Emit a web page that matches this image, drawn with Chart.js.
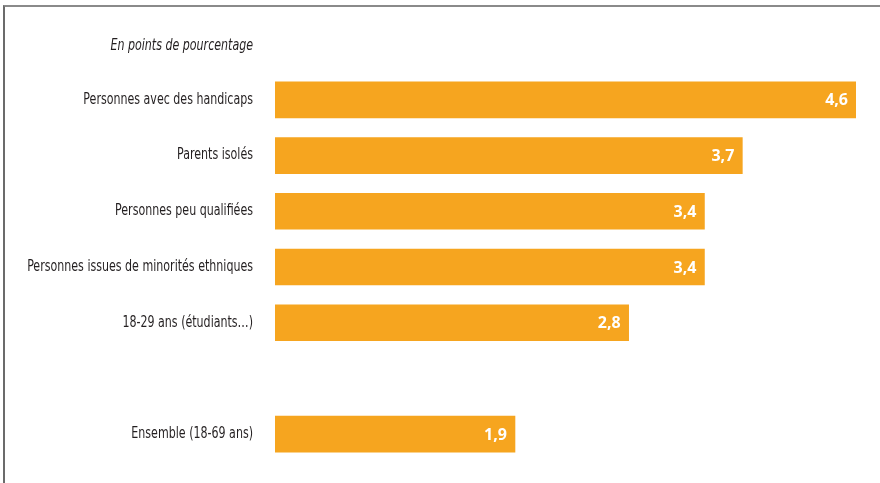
<!DOCTYPE html>
<html>
<head>
<meta charset="utf-8">
<script src="https://cdn.jsdelivr.net/npm/chart.js@4"></script>
<style>
  html, body { margin: 0; padding: 0; background: #fff; }
  #wrap { position: relative; width: 880px; height: 483px; }
  #frame {
    position: absolute; left: 3px; top: 5px; right: 0; bottom: 0;
    border-top: 2px solid #8a8a8a; border-left: 2px solid #6b6b6b;
    pointer-events: none;
  }
  canvas { display: block; }
</style>
</head>
<body>
<div id="wrap">
  <canvas id="chart" width="880" height="483"></canvas>
  <div id="frame"></div>
</div>
<script>
// categories, top to bottom; the empty one leaves a gap before the total
const categories = [
  'Personnes avec des handicaps',
  'Parents isolés',
  'Personnes peu qualifiées',
  'Personnes issues de minorités ethniques',
  '18-29 ans (étudiants\u2026)',
  '',
  'Ensemble (18-69 ans)'
];
const values = [4.6, 3.7, 3.4, 3.4, 2.8, null, 1.9];
const unitLabel = 'En points de pourcentage';

const BAR_COLOR = '#F6A51F';
const TEXT_COLOR = '#231f20';
const LABEL_FONT = '"DejaVu Sans Condensed", "DejaVu Sans", sans-serif';
const NARROW = 0.82;   // squeeze the label font horizontally
const LABEL_RIGHT = 253;

const fmt = v => v.toFixed(1).replace('.', ',');

// condensed text, right-aligned at x
function narrowText(ctx, text, x, y){
  ctx.save();
  ctx.translate(x, y);
  ctx.scale(NARROW, 1);
  ctx.fillText(text, 0, 0);
  ctx.restore();
}

// category names, the unit note, and the values inside the bars
const textLayer = {
  id: 'textLayer',
  afterDatasetsDraw(chart){
    const ctx = chart.ctx;
    const yScale = chart.scales.y;
    ctx.save();
    ctx.fillStyle = TEXT_COLOR;
    ctx.textAlign = 'right';
    ctx.textBaseline = 'middle';
    ctx.font = '15px ' + LABEL_FONT;
    categories.forEach((c, i) => {
      if(!c) return;
      narrowText(ctx, c, LABEL_RIGHT, yScale.getPixelForTick(i));
    });
    ctx.font = 'italic 15px ' + LABEL_FONT;
    narrowText(ctx, unitLabel, LABEL_RIGHT, 46);

    const meta = chart.getDatasetMeta(0);
    ctx.fillStyle = '#ffffff';
    ctx.font = 'bold 16px "Open Sans", sans-serif';
    meta.data.forEach((bar, i) => {
      if(values[i] == null) return;
      ctx.fillText(fmt(values[i]), bar.x - 8, bar.y + 1);
    });
    ctx.restore();
  }
};

new Chart(document.getElementById('chart'), {
  type: 'bar',
  data: {
    labels: categories,
    datasets: [{
      data: values,
      backgroundColor: BAR_COLOR,
      borderWidth: 0,
      barThickness: 36
    }]
  },
  options: {
    indexAxis: 'y',
    responsive: false,
    animation: false,
    layout: { padding: { top: 72, bottom: 21, right: 24, left: 0 } },
    plugins: {
      legend: { display: false },
      tooltip: { enabled: false }
    },
    scales: {
      x: { min: 0, max: 4.6, display: false },
      y: {
        grid: { display: false },
        border: { display: false },
        ticks: { display: false },
        afterFit(scale){ scale.width = 275; }
      }
    }
  },
  plugins: [textLayer]
});
</script>
</body>
</html>
